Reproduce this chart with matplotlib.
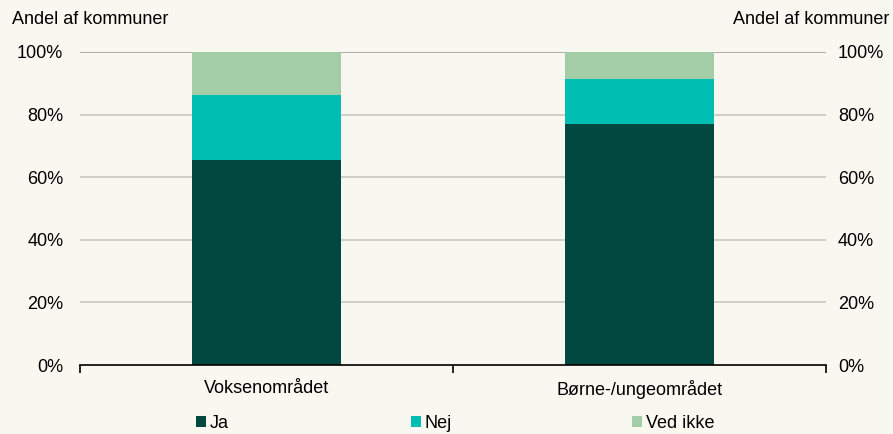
import matplotlib.pyplot as plt
from matplotlib.patches import Patch
import numpy as np

plt.rcParams['font.family'] = ['Liberation Sans', 'DejaVu Sans']

categories = ["Voksenområdet", "Børne-/ungeområdet"]
series_names = ["Ja", "Nej", "Ved ikke"]
ja = [65.5, 76.9]
nej = [20.8, 14.5]
ved_ikke = [13.7, 8.6]
yticks = [0, 20, 40, 60, 80, 100]
ytick_labels = ["0%", "20%", "40%", "60%", "80%", "100%"]

colors = ["#004840", "#00BFB2", "#A3CDA7"]
bg = "#F8F7F0"
fs = 13

fig = plt.figure(figsize=(8.93, 4.34), dpi=100, facecolor=bg)
ax = fig.add_axes([80/893, 1-365/434, 746/893, 313/434], facecolor=bg)

x = np.arange(len(categories))
bottom = np.zeros(len(categories))
for vals, c in zip([ja, nej, ved_ikke], colors):
    ax.bar(x, vals, width=0.4, bottom=bottom, color=c, zorder=3)
    bottom += np.array(vals)

ax.set_xlim(-0.5, len(categories) - 0.5)
ax.set_ylim(0, 100)

for y in yticks[1:]:
    ax.axhline(y, color="#C8C8C2" if y < 100 else "#A0A0A0", lw=1.2, zorder=1)

for s in ["top", "left", "right"]:
    ax.spines[s].set_visible(False)
ax.spines["bottom"].set_color("black")
ax.spines["bottom"].set_linewidth(1.2)
ax.spines["bottom"].set_zorder(4)

ax.set_xticks(x)
ax.set_xticklabels(categories, fontsize=fs)
ax.tick_params(axis="x", length=0, pad=11)
ax.set_xticks([-0.5, 0.5, 1.5], minor=True)
ax.tick_params(axis="x", which="minor", length=6, width=1.2, color="black")

ax.set_yticks(yticks)
ax.set_yticklabels(ytick_labels, fontsize=fs)
ax.tick_params(axis="y", length=0, pad=12)

ax2 = ax.twinx()
ax2.set_ylim(0, 100)
ax2.set_yticks(yticks)
ax2.set_yticklabels(ytick_labels, fontsize=fs)
ax2.tick_params(axis="y", length=0, pad=8.5)
for s in ["top", "left", "right", "bottom"]:
    ax2.spines[s].set_visible(False)

fig.text(12/893, 1-20/434, "Andel af kommuner", fontsize=fs, va="center", ha="left")
fig.text(889/893, 1-20/434, "Andel af kommuner", fontsize=fs, va="center", ha="right")

# one legend per entry so each sits at its own spot under the axis
legend_x = [196, 411, 632]
for name, c, lx in zip(series_names, colors, legend_x):
    fig.legend([Patch(facecolor=c, edgecolor="none")], [name],
               loc="center left", bbox_to_anchor=(lx/893, 1-423/434),
               frameon=False, fontsize=fs, handlelength=0.55,
               handleheight=0.55, handletextpad=0.2,
               borderaxespad=0, borderpad=0)

fig.savefig("out.png", dpi=100, facecolor=bg)
